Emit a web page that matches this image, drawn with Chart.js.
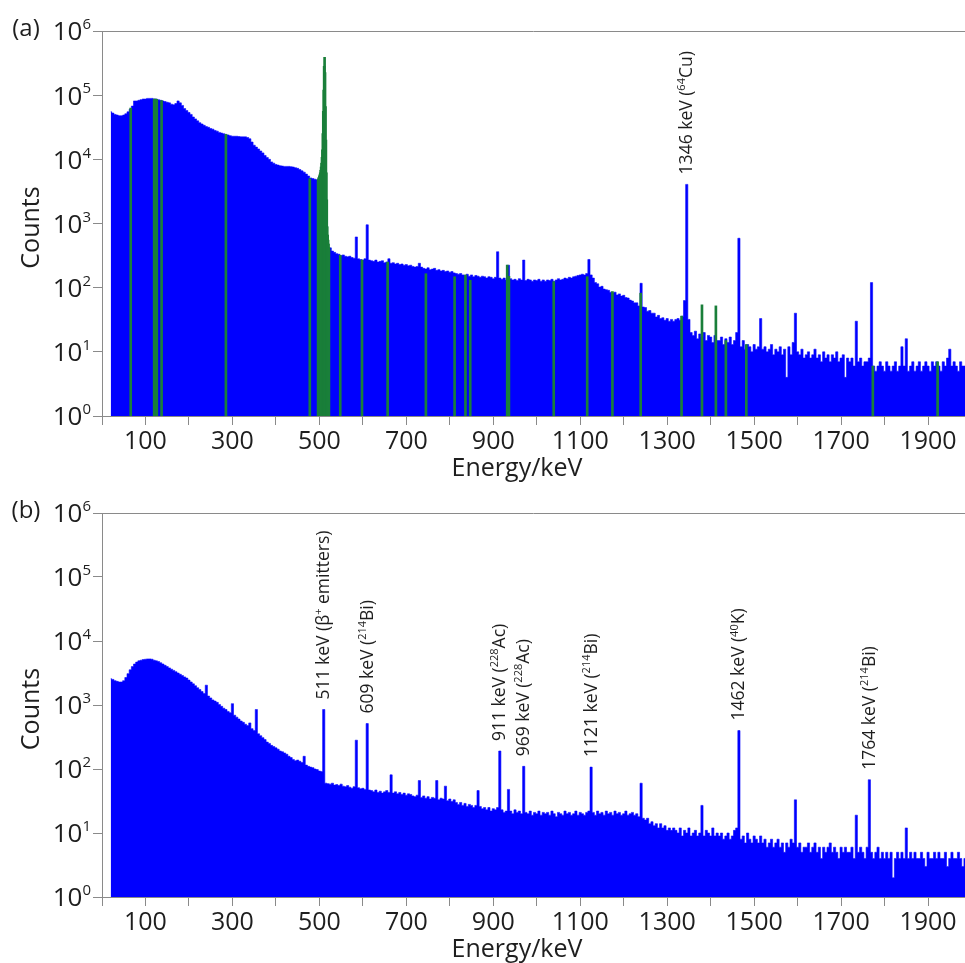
<!DOCTYPE html>
<html>
<head>
<meta charset="utf-8">
<script src="https://cdn.jsdelivr.net/npm/chart.js@4.4.1/dist/chart.umd.min.js"></script>
<style>
  body { margin: 0; background: #fff; }
  canvas { display: block; }
</style>
</head>
<body>
<canvas id="spectrumA" width="965" height="482"></canvas>
<canvas id="spectrumB" width="965" height="481"></canvas>
<script>
// channel groups: centre of first group and group width, keV
const binStart = 20;
const binWidth = 5;

// y axis decades (10^n)
const decades = [0, 1, 2, 3, 4, 5, 6];

// (a) counts per 5 keV group, 20 ... 1985 keV
// (groups 505-520 sit under the green annihilation region)
const countsA = [
  55000, 52500, 50100, 49000, 47900, 47900, 49000, 51300, 55000, 60300, 67600, 81300, 81300, 83200, 85100, 87100, 87100, 89100, 89100, 89100,
  87100, 87100, 85100, 83200, 81300, 79400, 77600, 75900, 72400, 70800, 74100, 81300, 75900, 69200, 61700, 57500, 53700, 50100, 45700, 42700,
  39800, 37200, 35500, 33900, 32400, 31600, 30200, 29500, 28200, 27500, 26300, 25700, 25100, 24500, 24000, 23400, 22900, 22900, 22900, 22600,
  22400, 22400, 22400, 21900, 20900, 18600, 16600, 15500, 14500, 13500, 12600, 11500, 10700, 10000, 9120, 8710, 8320, 8130, 7940, 7850,
  7760, 7760, 7760, 7670, 7590, 7410, 7240, 6920, 6610, 6310, 5890, 5500, 5130, 5010, 4900, 4790, 5250, 6000, 24000, 2300,
  400, 417, 372, 355, 339, 331, 316, 324, 309, 302, 309, 295, 288, 617, 282, 275, 269, 282, 955, 269,
  263, 257, 269, 251, 257, 263, 245, 251, 282, 240, 245, 234, 240, 229, 234, 224, 229, 219, 224, 214,
  209, 214, 240, 209, 200, 195, 204, 191, 195, 200, 186, 191, 182, 186, 178, 182, 174, 178, 170, 166,
  162, 166, 158, 155, 162, 151, 158, 148, 155, 151, 145, 151, 148, 141, 148, 145, 138, 145, 363, 141,
  135, 141, 132, 224, 138, 132, 135, 129, 138, 132, 269, 129, 135, 132, 126, 132, 129, 135, 126, 132,
  126, 132, 129, 135, 126, 132, 138, 132, 135, 141, 138, 145, 141, 148, 151, 155, 158, 162, 158, 166,
  275, 158, 141, 120, 115, 102, 105, 95, 93, 91, 85, 83, 85, 77, 80, 74, 76, 70, 69, 64,
  62, 58, 58, 52, 117, 50, 49, 43, 44, 40, 40, 35, 37, 33, 34, 31, 33, 30, 32, 30,
  32, 33, 31, 36, 63, 4070, 32, 20, 18, 21, 16, 19, 17, 20, 15, 18, 17, 14, 18, 15,
  15, 17, 13, 16, 14, 17, 13, 15, 20, 589, 12, 15, 11, 13, 12, 10, 13, 11, 12, 33,
  11, 12, 10, 11, 13, 9, 11, 10, 12, 9, 11, 4, 12, 9, 14, 40, 10, 9, 11, 8,
  9, 10, 8, 9, 11, 8, 9, 7, 10, 8, 9, 7, 9, 8, 10, 7, 8, 9, 4, 8,
  7, 8, 6, 30, 7, 8, 6, 7, 7, 8, 120, 6, 5, 6, 7, 6, 5, 7, 6, 5,
  6, 7, 5, 6, 12, 6, 16, 5, 6, 7, 5, 6, 7, 5, 6, 7, 6, 5, 7, 6,
  7, 6, 5, 7, 6, 8, 11, 6, 7, 6, 5, 7, 6, 6
];

// (a) identified peak markers (green)
const markerEnergies = [66, 120, 123, 126, 137, 285, 478, 548, 598, 657, 745, 811, 836, 847, 932, 936, 1039, 1116, 1174, 1239, 1333, 1380, 1412, 1435, 1482, 1773, 1922];
const markerCounts = [63000, 87000, 87000, 86000, 82000, 24500, 5000, 320, 270, 250, 165, 148, 158, 130, 225, 150, 124, 148, 87, 82, 36, 54, 52, 15, 13, 6, 7];

// (a) annihilation peak region, 1 keV steps
const annEnergies = [497, 498, 499, 500, 501, 502, 503, 504, 505, 506, 507, 508, 509, 510, 511, 512, 513, 514, 515, 516, 517, 518, 519, 520, 521, 522];
const annCounts = [4790, 5010, 5250, 5500, 5750, 6170, 6760, 7590, 8710, 10700, 14100, 25100, 56200, 120000, 282000, 389000, 224000, 66100, 20000, 6170, 2340, 891, 661, 550, 479, 417];

// (b) counts per 5 keV group, 20 ... 1985 keV
const countsB = [
  2570, 2510, 2400, 2340, 2290, 2290, 2400, 2690, 3090, 3550, 3980, 4370, 4680, 4900, 5010, 5130, 5190, 5250, 5250, 5190,
  5010, 4900, 4790, 4570, 4370, 4170, 3980, 3800, 3630, 3470, 3310, 3160, 3020, 2880, 2750, 2630, 2450, 2290, 2140, 2000,
  1860, 1740, 1620, 1510, 2040, 1380, 1290, 1200, 1150, 1100, 1020, 955, 891, 851, 794, 759, 1050, 692, 646, 603,
  562, 537, 501, 479, 525, 427, 398, 851, 355, 331, 309, 288, 263, 251, 234, 224, 214, 204, 191, 186,
  178, 170, 158, 151, 141, 135, 138, 132, 126, 158, 115, 110, 107, 105, 100, 98, 93, 91, 851, 60,
  59, 58, 60, 56, 57, 55, 58, 54, 53, 55, 52, 50, 53, 282, 51, 49, 50, 48, 513, 47,
  46, 44, 47, 43, 45, 42, 44, 46, 43, 81, 42, 44, 41, 43, 40, 42, 39, 41, 40, 38,
  37, 39, 66, 36, 38, 35, 37, 34, 36, 35, 66, 33, 35, 34, 54, 32, 34, 31, 33, 30,
  28, 30, 27, 29, 26, 28, 27, 25, 27, 46, 26, 24, 25, 23, 25, 22, 24, 23, 25, 191,
  23, 21, 22, 48, 22, 20, 23, 21, 22, 20, 110, 21, 20, 22, 19, 21, 20, 22, 19, 21,
  20, 21, 19, 22, 20, 18, 21, 20, 19, 22, 20, 21, 19, 20, 22, 19, 21, 20, 19, 21,
  22, 107, 21, 19, 22, 20, 21, 19, 22, 20, 21, 19, 22, 20, 21, 19, 20, 22, 19, 20,
  21, 19, 20, 18, 60, 17, 16, 17, 14, 15, 13, 14, 12, 14, 12, 13, 11, 12, 11, 12,
  11, 10, 12, 9, 11, 10, 12, 9, 10, 11, 9, 10, 27, 9, 11, 10, 9, 12, 9, 10,
  9, 10, 8, 9, 10, 8, 9, 11, 12, 398, 8, 9, 7, 10, 8, 7, 9, 8, 7, 9,
  7, 8, 6, 7, 8, 6, 7, 8, 6, 7, 5, 7, 6, 8, 7, 33, 6, 7, 5, 6,
  6, 7, 5, 6, 7, 5, 6, 4, 6, 5, 6, 7, 5, 6, 5, 4, 6, 5, 6, 5,
  5, 6, 4, 19, 5, 6, 5, 4, 6, 68, 5, 4, 5, 6, 4, 5, 4, 5, 4, 5,
  2, 4, 5, 4, 5, 4, 12, 4, 5, 4, 5, 4, 4, 5, 4, 3, 5, 4, 4, 5,
  4, 5, 4, 4, 5, 3, 4, 5, 4, 4, 5, 4, 3, 4
];

// peak labels, ^...^ marks superscript
const notesA_E = [1346];
const notesA_T = ['1346 keV (^64^Cu)'];
const notesB_E = [511, 609, 911, 969, 1121, 1462, 1764];
const notesB_T = ['511 keV (\u03b2^+^ emitters)', '609 keV (^214^Bi)', '911 keV (^228^Ac)', '969 keV (^228^Ac)',
  '1121 keV (^214^Bi)', '1462 keV (^40^K)', '1764 keV (^214^Bi)'];

const blue = '#0000ff';
const green = '#1a7f3a';
const axisGrey = '#8a8a8a';
const ink = '#1e1e1e';
const family = '"Open Sans", sans-serif';

Chart.defaults.font.family = family;

function toPoints(counts) {
  return counts.map((c, i) => ({ x: binStart + i * binWidth, y: c }));
}

function peakBin(counts, energy) {
  let best = -1;
  counts.forEach((c, i) => {
    const e = binStart + i * binWidth;
    if (Math.abs(e - energy) <= 6 && (best < 0 || c > counts[best])) best = i;
  });
  return best;
}

// mixed-size text along the current x direction
function drawRich(ctx, text, mainSize, supSize, supShift) {
  let off = 0;
  text.split('^').forEach((part, i) => {
    const sup = i % 2 === 1;
    ctx.font = (sup ? supSize : mainSize) + 'px ' + family;
    ctx.fillText(part, off, sup ? -supShift : 0);
    off += ctx.measureText(part).width;
  });
}

const spectrumDecor = {
  id: 'spectrumDecor',
  afterDraw(chart, args, opts) {
    const { ctx, chartArea: area } = chart;
    const xs = chart.scales.x, ys = chart.scales.y;
    ctx.save();

    // frame line along the top
    ctx.strokeStyle = axisGrey;
    ctx.lineWidth = 1;
    ctx.beginPath();
    ctx.moveTo(area.left, Math.round(area.top) + 0.5);
    ctx.lineTo(area.right, Math.round(area.top) + 0.5);
    ctx.stroke();

    ctx.fillStyle = ink;
    ctx.textBaseline = 'middle';

    // decade labels
    decades.forEach(d => {
      const py = ys.getPixelForValue(Math.pow(10, d));
      ctx.font = '15px ' + family;
      const sw = ctx.measureText(String(d)).width;
      ctx.textAlign = 'left';
      ctx.fillText(String(d), 91 - sw, py - 6);
      ctx.font = '26px ' + family;
      ctx.textAlign = 'right';
      ctx.fillText('10', 91 - sw, py + 2);
    });

    // axis titles and panel letter
    ctx.textAlign = 'center';
    ctx.font = '25px ' + family;
    ctx.fillText('Energy/keV', 517, area.bottom + 53);
    ctx.font = '24px ' + family;
    ctx.fillText(opts.panel, 26, 29);
    ctx.save();
    ctx.font = '25px ' + family;
    ctx.translate(32, (area.top + area.bottom) / 2 + 4);
    ctx.rotate(-Math.PI / 2);
    ctx.fillText('Counts', 0, 0);
    ctx.restore();

    // rotated peak labels
    ctx.textAlign = 'left';
    opts.noteEnergies.forEach((e, k) => {
      const b = peakBin(opts.counts, e);
      const px = xs.getPixelForValue(binStart + b * binWidth) + 0.5;
      const py = ys.getPixelForValue(opts.counts[b]) - 10;
      ctx.save();
      ctx.translate(px, py);
      ctx.rotate(-Math.PI / 2);
      drawRich(ctx, opts.noteTexts[k], 17.5, 11, 5);
      ctx.restore();
    });

    ctx.restore();
  }
};

function makeConfig(counts, extra, panel, noteEnergies, noteTexts) {
  const datasets = extra.concat([{
    type: 'line',
    data: toPoints(counts),
    borderColor: blue,
    backgroundColor: blue,
    borderWidth: 0.6,
    stepped: 'middle',
    fill: 'start',
    pointRadius: 0,
    order: 2
  }]);
  return {
    type: 'line',
    data: { datasets },
    plugins: [spectrumDecor],
    options: {
      responsive: false,
      animation: false,
      events: [],
      layout: { padding: { left: 0, right: 0, top: 31, bottom: 0 } },
      plugins: {
        legend: { display: false },
        tooltip: { enabled: false },
        spectrumDecor: { panel, counts, noteEnergies, noteTexts }
      },
      scales: {
        x: {
          type: 'linear',
          min: 0,
          max: 1985,
          offset: false,
          afterFit: s => { s.height = 66; },
          grid: { offset: false, drawOnChartArea: false, tickLength: 9, color: axisGrey },
          border: { color: axisGrey },
          ticks: {
            stepSize: 100,
            includeBounds: false,
            autoSkip: false,
            maxRotation: 0,
            padding: 2,
            color: ink,
            font: { size: 25 },
            callback: v => (v % 200 === 100 ? v : '')
          }
        },
        y: {
          type: 'logarithmic',
          min: 1,
          max: 1e6,
          afterFit: s => { s.width = 102; },
          afterBuildTicks: s => { s.ticks = decades.map(d => ({ value: Math.pow(10, d) })); },
          grid: { drawOnChartArea: false, tickLength: 9, color: axisGrey },
          border: { color: axisGrey },
          ticks: { display: false }
        }
      }
    }
  };
}

// green markers drawn above the spectrum
const greenBars = {
  type: 'bar',
  data: markerEnergies.map((e, i) => ({ x: e, y: markerCounts[i] }))
    .concat(annEnergies.map((e, i) => ({ x: e, y: annCounts[i] }))),
  backgroundColor: green,
  borderWidth: 0,
  barThickness: 2,
  order: 1
};

const chartA = new Chart(document.getElementById('spectrumA').getContext('2d'),
  makeConfig(countsA, [greenBars], '(a)', notesA_E, notesA_T));
const chartB = new Chart(document.getElementById('spectrumB').getContext('2d'),
  makeConfig(countsB, [], '(b)', notesB_E, notesB_T));
</script>
</body>
</html>
